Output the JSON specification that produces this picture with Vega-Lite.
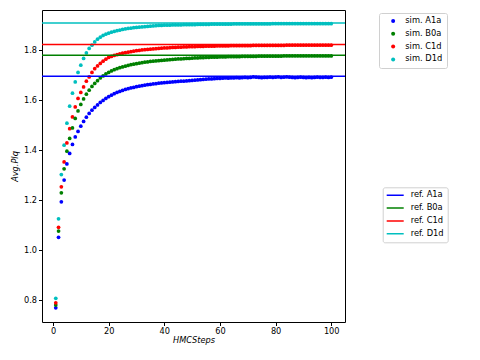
{
 "$schema": "https://vega.github.io/schema/vega-lite/v6.json",
 "autosize": "none",
 "padding": {"left": 42, "top": 10, "right": 135, "bottom": 38},
 "width": 303,
 "height": 312,
 "background": "white",
 "config": {
  "view": {"stroke": "black", "strokeWidth": 1},
  "font": "DejaVu Sans",
  "axis": {"domain": false, "grid": false, "tickColor": "black", "tickSize": 3.5, "tickWidth": 1, "labelColor": "black", "labelFontSize": 8.2, "labelFont": "DejaVu Sans", "titleFont": "DejaVu Sans", "titleFontSize": 8.2, "titleFontStyle": "italic", "titleFontWeight": "normal", "titleColor": "black", "labelPadding": 2},
  "legend": {"strokeColor": "#d0d0d0", "fillColor": "white", "cornerRadius": 2, "padding": 4, "rowPadding": 3.8, "clipHeight": 8, "labelFontSize": 8.3, "labelFont": "DejaVu Sans", "labelColor": "black"}
 },
 "layer": [
  {
   "data": {"values": [
    {"s":1,"A1a":0.770,"B0a":0.781,"C1d":0.790,"D1d":0.808},
    {"s":2,"A1a":1.052,"B0a":1.077,"C1d":1.092,"D1d":1.126},
    {"s":3,"A1a":1.194,"B0a":1.230,"C1d":1.254,"D1d":1.303},
    {"s":4,"A1a":1.281,"B0a":1.326,"C1d":1.354,"D1d":1.421},
    {"s":5,"A1a":1.346,"B0a":1.397,"C1d":1.430,"D1d":1.509},
    {"s":6,"A1a":1.388,"B0a":1.448,"C1d":1.487,"D1d":1.577},
    {"s":7,"A1a":1.424,"B0a":1.490,"C1d":1.534,"D1d":1.629},
    {"s":8,"A1a":1.454,"B0a":1.528,"C1d":1.574,"D1d":1.674},
    {"s":9,"A1a":1.476,"B0a":1.558,"C1d":1.608,"D1d":1.712},
    {"s":10,"A1a":1.497,"B0a":1.584,"C1d":1.632,"D1d":1.741},
    {"s":11,"A1a":1.516,"B0a":1.606,"C1d":1.654,"D1d":1.768},
    {"s":12,"A1a":1.533,"B0a":1.625,"C1d":1.677,"D1d":1.790},
    {"s":13,"A1a":1.548,"B0a":1.641,"C1d":1.694,"D1d":1.808},
    {"s":14,"A1a":1.561,"B0a":1.656,"C1d":1.712,"D1d":1.821},
    {"s":15,"A1a":1.572,"B0a":1.668,"C1d":1.727,"D1d":1.834},
    {"s":16,"A1a":1.582,"B0a":1.679,"C1d":1.738,"D1d":1.845},
    {"s":17,"A1a":1.592,"B0a":1.690,"C1d":1.748,"D1d":1.853},
    {"s":18,"A1a":1.600,"B0a":1.698,"C1d":1.757,"D1d":1.860},
    {"s":19,"A1a":1.608,"B0a":1.706,"C1d":1.765,"D1d":1.865},
    {"s":20,"A1a":1.615,"B0a":1.712,"C1d":1.772,"D1d":1.869},
    {"s":21,"A1a":1.621,"B0a":1.718,"C1d":1.776,"D1d":1.873},
    {"s":22,"A1a":1.627,"B0a":1.723,"C1d":1.780,"D1d":1.876},
    {"s":23,"A1a":1.632,"B0a":1.727,"C1d":1.783,"D1d":1.879},
    {"s":24,"A1a":1.636,"B0a":1.731,"C1d":1.786,"D1d":1.881},
    {"s":25,"A1a":1.640,"B0a":1.734,"C1d":1.789,"D1d":1.884},
    {"s":26,"A1a":1.644,"B0a":1.737,"C1d":1.791,"D1d":1.886},
    {"s":27,"A1a":1.647,"B0a":1.740,"C1d":1.793,"D1d":1.888},
    {"s":28,"A1a":1.650,"B0a":1.743,"C1d":1.795,"D1d":1.889},
    {"s":29,"A1a":1.652,"B0a":1.745,"C1d":1.797,"D1d":1.891},
    {"s":30,"A1a":1.655,"B0a":1.747,"C1d":1.799,"D1d":1.892},
    {"s":31,"A1a":1.657,"B0a":1.749,"C1d":1.800,"D1d":1.893},
    {"s":32,"A1a":1.659,"B0a":1.751,"C1d":1.802,"D1d":1.894},
    {"s":33,"A1a":1.661,"B0a":1.753,"C1d":1.803,"D1d":1.895},
    {"s":34,"A1a":1.663,"B0a":1.754,"C1d":1.804,"D1d":1.896},
    {"s":35,"A1a":1.664,"B0a":1.756,"C1d":1.805,"D1d":1.897},
    {"s":36,"A1a":1.666,"B0a":1.757,"C1d":1.806,"D1d":1.898},
    {"s":37,"A1a":1.667,"B0a":1.758,"C1d":1.807,"D1d":1.899},
    {"s":38,"A1a":1.669,"B0a":1.759,"C1d":1.808,"D1d":1.900},
    {"s":39,"A1a":1.670,"B0a":1.760,"C1d":1.809,"D1d":1.900},
    {"s":40,"A1a":1.671,"B0a":1.761,"C1d":1.810,"D1d":1.901},
    {"s":41,"A1a":1.672,"B0a":1.762,"C1d":1.810,"D1d":1.901},
    {"s":42,"A1a":1.673,"B0a":1.763,"C1d":1.811,"D1d":1.901},
    {"s":43,"A1a":1.674,"B0a":1.764,"C1d":1.812,"D1d":1.902},
    {"s":44,"A1a":1.675,"B0a":1.765,"C1d":1.812,"D1d":1.902},
    {"s":45,"A1a":1.676,"B0a":1.766,"C1d":1.813,"D1d":1.902},
    {"s":46,"A1a":1.677,"B0a":1.766,"C1d":1.813,"D1d":1.902},
    {"s":47,"A1a":1.677,"B0a":1.767,"C1d":1.814,"D1d":1.903},
    {"s":48,"A1a":1.678,"B0a":1.768,"C1d":1.814,"D1d":1.903},
    {"s":49,"A1a":1.679,"B0a":1.768,"C1d":1.815,"D1d":1.903},
    {"s":50,"A1a":1.680,"B0a":1.769,"C1d":1.815,"D1d":1.903},
    {"s":51,"A1a":1.681,"B0a":1.770,"C1d":1.815,"D1d":1.903},
    {"s":52,"A1a":1.682,"B0a":1.770,"C1d":1.816,"D1d":1.904},
    {"s":53,"A1a":1.683,"B0a":1.771,"C1d":1.816,"D1d":1.904},
    {"s":54,"A1a":1.684,"B0a":1.771,"C1d":1.816,"D1d":1.904},
    {"s":55,"A1a":1.685,"B0a":1.772,"C1d":1.817,"D1d":1.904},
    {"s":56,"A1a":1.686,"B0a":1.772,"C1d":1.817,"D1d":1.904},
    {"s":57,"A1a":1.686,"B0a":1.773,"C1d":1.817,"D1d":1.905},
    {"s":58,"A1a":1.687,"B0a":1.773,"C1d":1.817,"D1d":1.905},
    {"s":59,"A1a":1.688,"B0a":1.773,"C1d":1.818,"D1d":1.905},
    {"s":60,"A1a":1.688,"B0a":1.774,"C1d":1.818,"D1d":1.905},
    {"s":61,"A1a":1.689,"B0a":1.774,"C1d":1.818,"D1d":1.905},
    {"s":62,"A1a":1.690,"B0a":1.774,"C1d":1.818,"D1d":1.905},
    {"s":63,"A1a":1.689,"B0a":1.775,"C1d":1.818,"D1d":1.905},
    {"s":64,"A1a":1.690,"B0a":1.775,"C1d":1.819,"D1d":1.905},
    {"s":65,"A1a":1.690,"B0a":1.775,"C1d":1.819,"D1d":1.906},
    {"s":66,"A1a":1.691,"B0a":1.775,"C1d":1.819,"D1d":1.906},
    {"s":67,"A1a":1.690,"B0a":1.775,"C1d":1.819,"D1d":1.906},
    {"s":68,"A1a":1.691,"B0a":1.776,"C1d":1.819,"D1d":1.906},
    {"s":69,"A1a":1.692,"B0a":1.776,"C1d":1.819,"D1d":1.906},
    {"s":70,"A1a":1.691,"B0a":1.776,"C1d":1.819,"D1d":1.906},
    {"s":71,"A1a":1.692,"B0a":1.776,"C1d":1.819,"D1d":1.906},
    {"s":72,"A1a":1.694,"B0a":1.776,"C1d":1.820,"D1d":1.906},
    {"s":73,"A1a":1.693,"B0a":1.776,"C1d":1.820,"D1d":1.906},
    {"s":74,"A1a":1.692,"B0a":1.777,"C1d":1.820,"D1d":1.906},
    {"s":75,"A1a":1.691,"B0a":1.777,"C1d":1.820,"D1d":1.906},
    {"s":76,"A1a":1.692,"B0a":1.777,"C1d":1.820,"D1d":1.906},
    {"s":77,"A1a":1.692,"B0a":1.777,"C1d":1.820,"D1d":1.906},
    {"s":78,"A1a":1.693,"B0a":1.777,"C1d":1.820,"D1d":1.906},
    {"s":79,"A1a":1.692,"B0a":1.777,"C1d":1.820,"D1d":1.907},
    {"s":80,"A1a":1.693,"B0a":1.777,"C1d":1.820,"D1d":1.907},
    {"s":81,"A1a":1.694,"B0a":1.777,"C1d":1.820,"D1d":1.907},
    {"s":82,"A1a":1.692,"B0a":1.777,"C1d":1.820,"D1d":1.907},
    {"s":83,"A1a":1.693,"B0a":1.778,"C1d":1.820,"D1d":1.907},
    {"s":84,"A1a":1.694,"B0a":1.778,"C1d":1.821,"D1d":1.907},
    {"s":85,"A1a":1.693,"B0a":1.778,"C1d":1.821,"D1d":1.907},
    {"s":86,"A1a":1.692,"B0a":1.778,"C1d":1.821,"D1d":1.907},
    {"s":87,"A1a":1.691,"B0a":1.778,"C1d":1.821,"D1d":1.907},
    {"s":88,"A1a":1.692,"B0a":1.778,"C1d":1.821,"D1d":1.907},
    {"s":89,"A1a":1.693,"B0a":1.778,"C1d":1.821,"D1d":1.907},
    {"s":90,"A1a":1.692,"B0a":1.778,"C1d":1.821,"D1d":1.907},
    {"s":91,"A1a":1.691,"B0a":1.778,"C1d":1.821,"D1d":1.907},
    {"s":92,"A1a":1.692,"B0a":1.778,"C1d":1.821,"D1d":1.907},
    {"s":93,"A1a":1.691,"B0a":1.778,"C1d":1.821,"D1d":1.907},
    {"s":94,"A1a":1.692,"B0a":1.778,"C1d":1.821,"D1d":1.907},
    {"s":95,"A1a":1.693,"B0a":1.778,"C1d":1.821,"D1d":1.907},
    {"s":96,"A1a":1.692,"B0a":1.778,"C1d":1.821,"D1d":1.907},
    {"s":97,"A1a":1.692,"B0a":1.778,"C1d":1.821,"D1d":1.907},
    {"s":98,"A1a":1.693,"B0a":1.778,"C1d":1.821,"D1d":1.907},
    {"s":99,"A1a":1.692,"B0a":1.778,"C1d":1.821,"D1d":1.907},
    {"s":100,"A1a":1.693,"B0a":1.778,"C1d":1.821,"D1d":1.907}
   ]},
   "transform": [{"fold": ["A1a", "B0a", "C1d", "D1d"], "as": ["series", "value"]}],
   "mark": {"type": "point", "filled": true, "size": 14, "opacity": 1},
   "encoding": {
    "x": {"field": "s", "type": "quantitative", "scale": {"domain": [-3.95, 104.95], "nice": false, "zero": false}, "axis": {"values": [0, 20, 40, 60, 80, 100], "title": "HMCSteps", "titlePadding": 2}},
    "y": {"field": "value", "type": "quantitative", "scale": {"domain": [0.713, 1.962], "nice": false, "zero": false}, "axis": {"values": [0.8, 1.0, 1.2, 1.4, 1.6, 1.8], "format": ".1f", "title": "Avg.Plq", "titlePadding": 4}},
    "color": {"field": "series", "type": "nominal", "scale": {"domain": ["A1a", "B0a", "C1d", "D1d"], "range": ["#0000ff", "#008000", "#ff0000", "#00bfbf"]}, "legend": {"title": null, "orient": "none", "legendX": 337, "legendY": 3, "labelExpr": "'sim. ' + datum.label", "symbolType": "circle", "symbolSize": 16, "symbolOffset": 6, "labelOffset": 8}}
   }
  },
  {
   "data": {"values": [
    {"series": "A1a", "value": 1.697},
    {"series": "B0a", "value": 1.781},
    {"series": "C1d", "value": 1.824},
    {"series": "D1d", "value": 1.910}
   ]},
   "mark": {"type": "rule", "strokeWidth": 1.5},
   "encoding": {
    "y": {"field": "value", "type": "quantitative"},
    "color": {"field": "series", "type": "nominal", "scale": {"domain": ["A1a", "B0a", "C1d", "D1d"], "range": ["#0000ff", "#008000", "#ff0000", "#00bfbf"]}, "legend": {"title": null, "orient": "none", "legendX": 340.7, "legendY": 177.3, "labelExpr": "'ref. ' + datum.label", "symbolType": "stroke", "symbolStrokeWidth": 1.5, "symbolSize": 324, "symbolOffset": -2, "labelOffset": 6}}
   }
  }
 ],
 "resolve": {"scale": {"color": "independent"}}
}
